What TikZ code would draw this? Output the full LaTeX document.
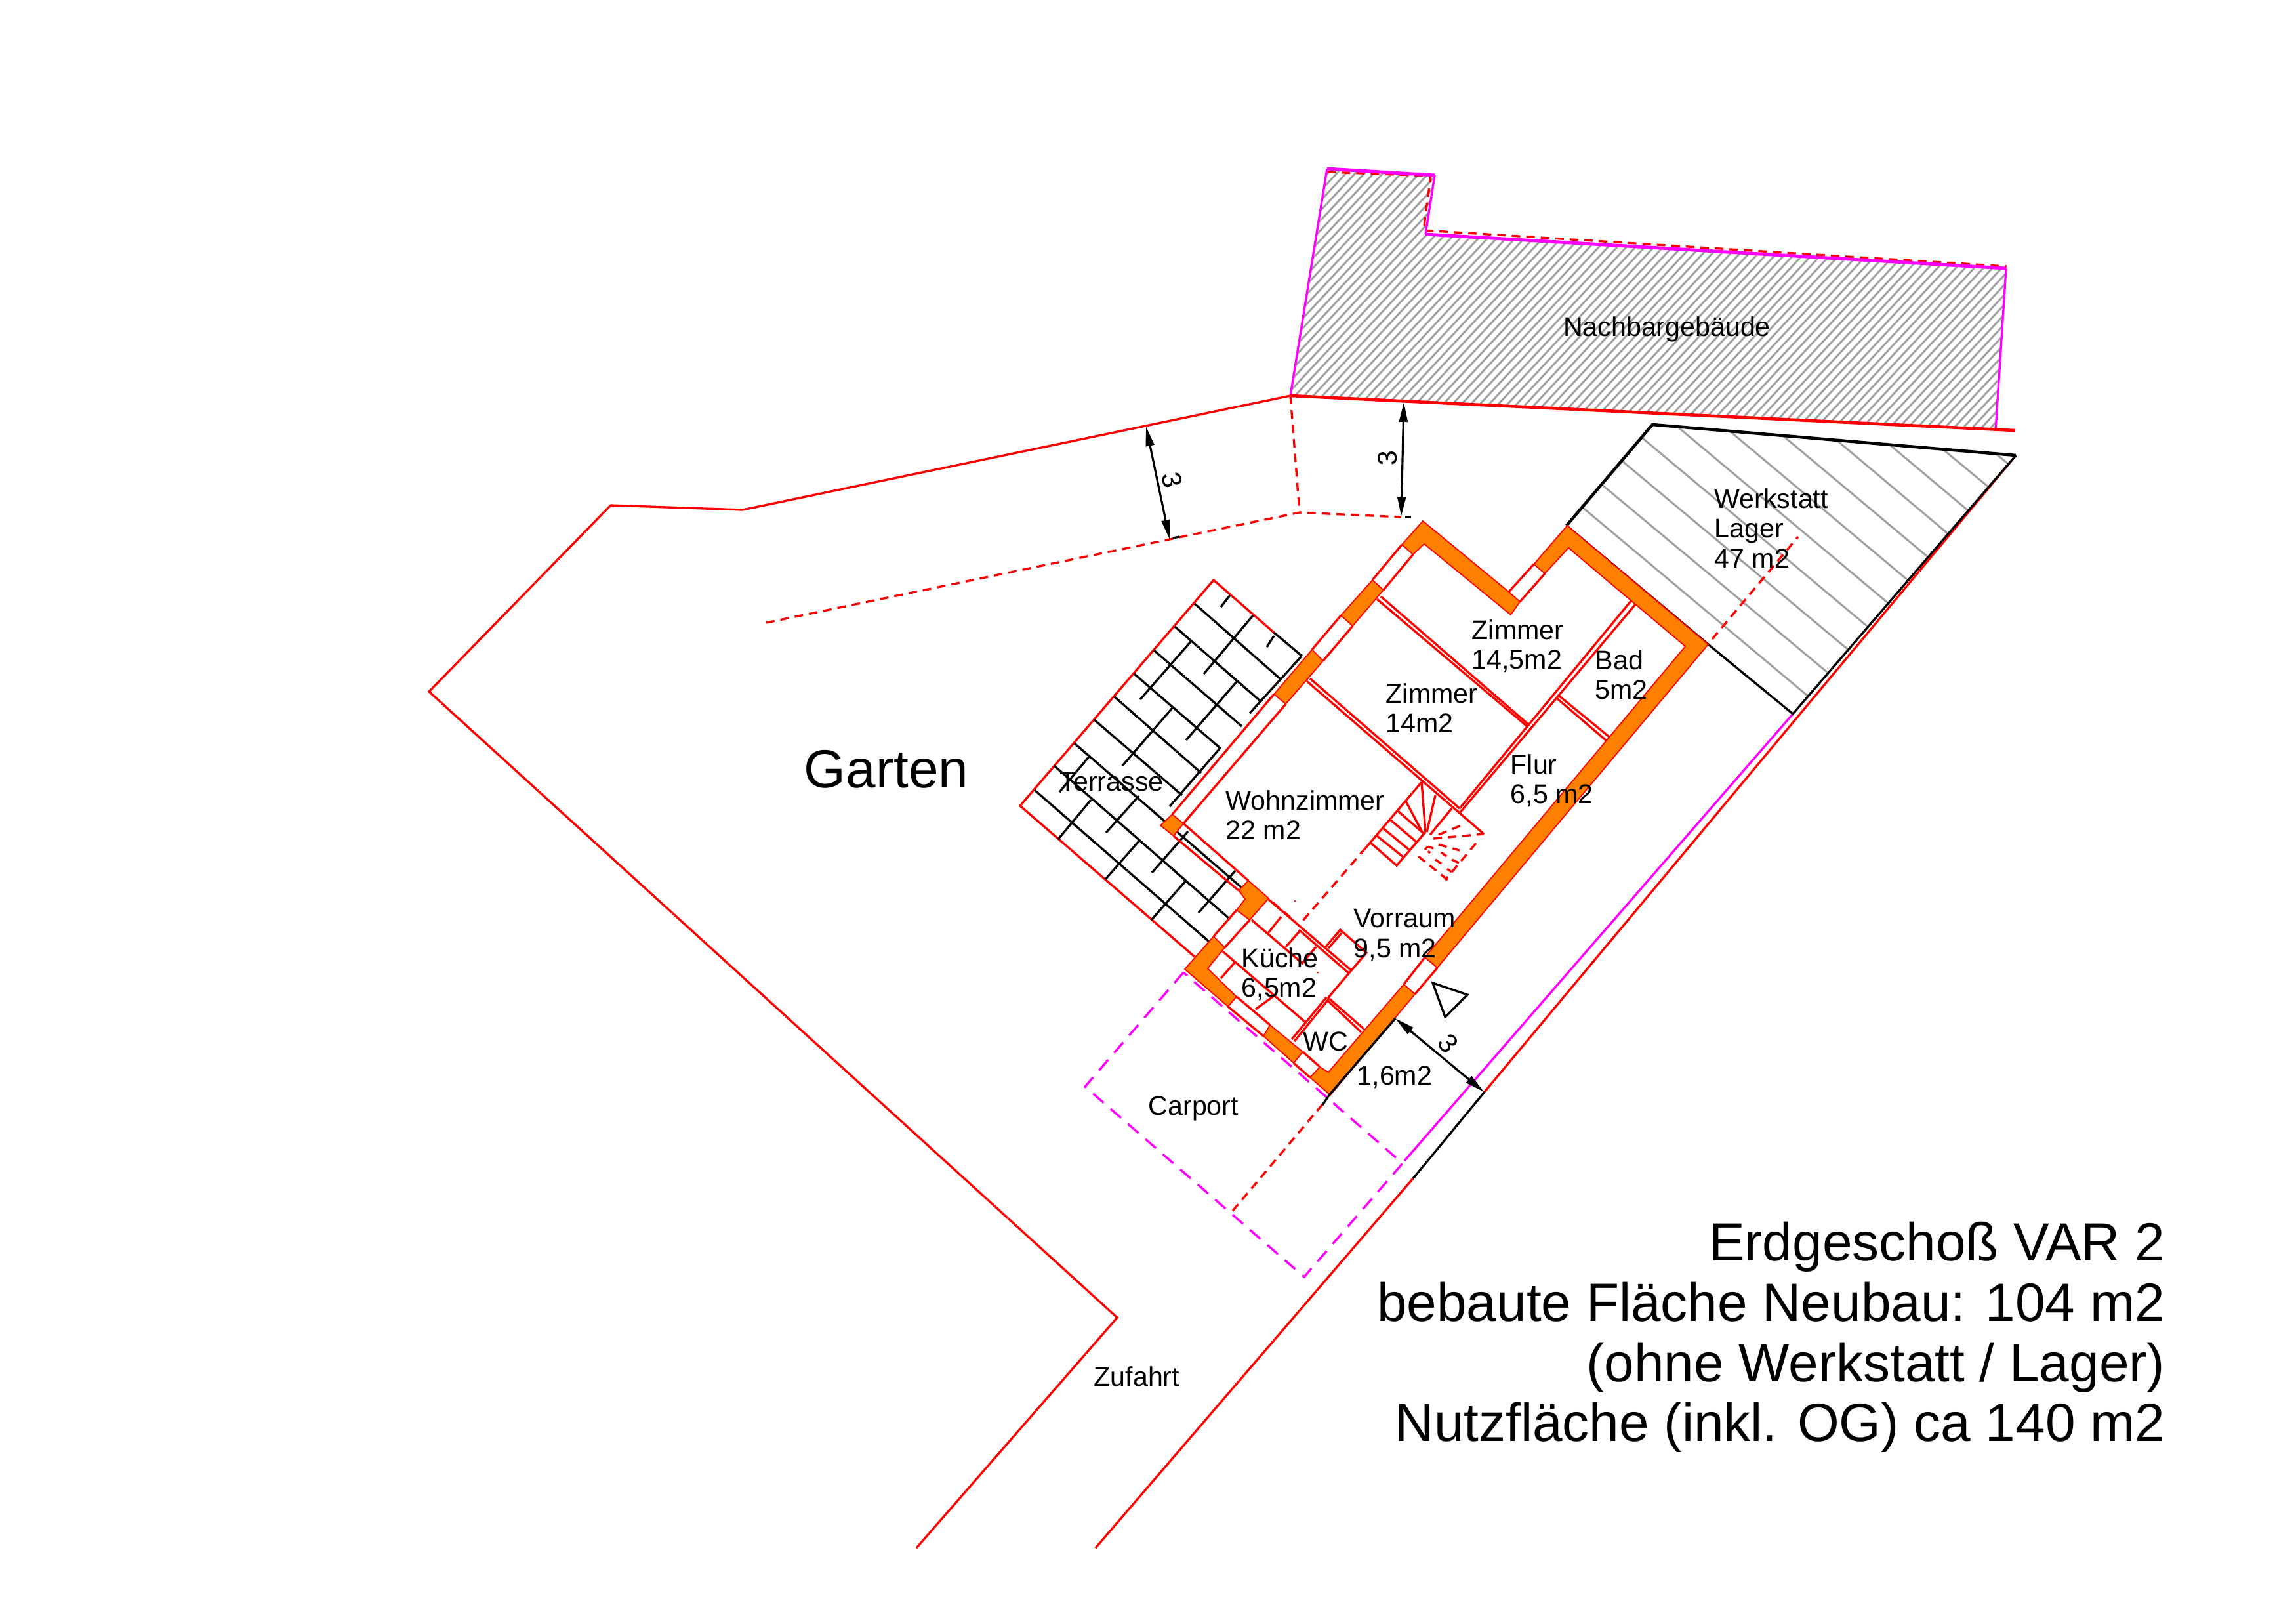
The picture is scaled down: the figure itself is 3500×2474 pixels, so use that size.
\documentclass[tikz,border=0pt]{standalone}
\usepackage{fontspec}
\setmainfont{Liberation Sans}
\usepackage{xcolor}
\usepackage{tikz}
\usetikzlibrary{arrows.meta}
\definecolor{planred}{HTML}{FF0000}
\definecolor{planmagenta}{HTML}{FF00FF}
\definecolor{planorange}{HTML}{FF8000}
\definecolor{plangrey}{HTML}{A0A0A0}
\tikzset{
	redline/.style={draw=planred, line width=0.95pt, line join=miter},
	reddash/.style={draw=planred, line width=0.95pt, dash pattern=on 3.7pt off 2.6pt},
	magline/.style={draw=planmagenta, line width=0.95pt},
	magdash/.style={draw=planmagenta, line width=0.95pt, dash pattern=on 6pt off 4pt},
	blackline/.style={draw=black, line width=0.95pt},
	greyline/.style={draw=plangrey, line width=0.85pt},
	wallpart/.style={draw=planred, fill=planorange, line width=0.5pt},
	dimline/.style={draw=black, line width=0.9pt, {Triangle[length=8.5pt,width=3.6pt]}-{Triangle[length=8.5pt,width=3.6pt]}},
	roomlabel/.style={anchor=west, inner sep=0pt, align=left, font=\fontsize{11.7}{12.9}\selectfont},
	dimlabel/.style={inner sep=0pt, font=\fontsize{11.7}{12.9}\selectfont},
	biglabel/.style={inner sep=0pt, font=\fontsize{23.3}{26.1}\selectfont}
}
\begin{document}
\begin{tikzpicture}[x=0.01cm, y=-0.01cm]
	\useasboundingbox (0,0) rectangle (3500,2474);

	% Neighbour building hatch
	\begin{scope}
		\clip (1967,603) -- (2023,257) -- (2187,267) -- (2173,357) -- (3058,409) -- (3042,656) -- cycle;
		\foreach \i in {0,...,106} {
			\draw[greyline] ({1585+14*\i},660) -- ({1967+14*\i},250);
		}
	\end{scope}
	\draw[reddash] (2023,262) -- (2181,268) -- (2170,351) -- (3059,406);
	\draw[magline, line width=1.4pt] (2023,257) -- (2187,267);
	\draw[magline, line width=1.4pt] (2173,357) -- (3058,409);
	\draw[magline] (1967,603) -- (2023,257);
	\draw[magline] (2187,267) -- (2173,357);
	\draw[magline] (3058,409) -- (3042,656);

	% Site boundary
	\draw[redline] (1397,2359) -- (1703,2008) -- (654,1054) -- (931,770) -- (1132,777) -- (1967,603);
	\draw[redline, line width=1.3pt] (1967,603) -- (3072,656);
	\draw[redline] (3073,694) -- (2263,1664);
	\draw[redline] (2154,1796) -- (1670,2359);
	\draw[blackline] (2263,1664) -- (2154,1796);
	\draw[magline] (2733,1088) -- (2141,1769);

	% Setback lines
	\draw[reddash] (1967,603) -- (1981,781);
	\draw[reddash] (1168,949) -- (1981,781) -- (2136,788);
	\draw[blackline] (1788,820) -- (1798,818);
	\draw[blackline] (2142,788) -- (2151,788);

	% Workshop
	\foreach \xa/\ya/\xb/\yb in {2412/773/2755/1060, 2441/738/2786/1025, 2472/702/2816/989, 2503/667/2847/955,
		2558/651/2878/919, 2638/658/2908/884, 2719/665/2939/849, 2800/671/2969/813,
		2882/679/3000/778, 2962/685/3031/742, 3042/691/3061/707} {
		\draw[greyline] (\xa,\ya) -- (\xb,\yb);
	}
	\draw[reddash] (2610,974) -- (2741,818);
	\draw[blackline] (2604,982) -- (2733,1088) -- (3073,694);
	\draw[blackline, line width=1.3pt] (2388,801) -- (2519,647) -- (3073,694);
	\draw[blackline] (2388,801) -- (2604,982);

	% Terrace
	\draw[redline] (1942,964) -- (1850,884) -- (1555,1228) -- (1821,1458);
	\foreach \xa/\ya/\xb/\yb in {1942/964/1985/1000, 1821/920/1952/1035, 1791/955/1923/1070, 1759/991/1893/1107,
		1729/1027/1861/1141, 1699/1062/1831/1178, 1668/1097/1802/1212, 1638/1133/1893/1353,
		1607/1167/1875/1401, 1577/1204/1843/1435,
		1875/907/1861/925, 1942/969/1931/986, 1910/938/1835/1027, 1984/1000/1905/1087,
		1815/978/1738/1066, 1885/1039/1808/1128, 1787/1079/1711/1167, 1859/1141/1783/1229,
		1661/1152/1615/1207, 1663/1219/1613/1279, 1736/1213/1686/1269, 1736/1282/1685/1340,
		1811/1267/1756/1330, 1807/1343/1755/1402, 1883/1327/1827/1391} {
		\draw[blackline] (\xa,\ya) -- (\xb,\yb);
	}

	% Carport
	\draw[magdash] (1804,1482) -- (1654,1656) -- (1988,1946) -- (2138,1773) -- cycle;
	\draw[reddash] (2016,1683) -- (1875,1850);

	% Outer walls
	\draw[wallpart] (2169,794) -- (2137,830) -- (2154,845) -- (2171,829) -- (2303,937) -- (2317,917) -- (2300,902) -- cycle;
	\draw[wallpart] (2389,801) -- (2338,860) -- (2355,874) -- (2391,835) -- (2569,985) -- (2172,1459) -- (2191,1475) -- (2604,982) -- cycle;
	\draw[wallpart] (2092,884) -- (2044,938) -- (2062,954) -- (2109,899) -- cycle;
	\draw[wallpart] (2000,990) -- (1942,1058) -- (1960,1073) -- (2017,1007) -- cycle;
	\draw[wallpart] (1787,1241) -- (1769,1258) -- (1789,1274) -- (1804,1255) -- cycle;
	\draw[wallpart] (1903,1342) -- (1934,1369) -- (1905,1402) -- (1885,1387) -- (1898,1370) -- (1888,1357) -- cycle;
	\draw[wallpart] (1850,1427) -- (1867,1444) -- (1841,1476) -- (1885,1519) -- (1872,1534) -- (1806,1477) -- cycle;
	\draw[wallpart] (1936,1562) -- (1926,1579) -- (1972,1620) -- (1986,1603) -- cycle;
	\draw[wallpart] (1997,1642) -- (2012,1626) -- (2025,1634) -- (2140,1500) -- (2157,1515) -- (2028,1669) -- cycle;

	% Openings and inner walls
	\foreach \xa/\ya/\xb/\yb in {2137/830/2092/884, 2154/845/2109/899, 2044/938/2000/990, 2062/954/2017/1007,
		1942/1058/1787/1241, 1960/1073/1804/1255, 1804/1255/1903/1342, 1789/1274/1888/1357,
		1885/1387/1850/1427, 1905/1402/1867/1444, 1872/1534/1926/1579, 1885/1519/1936/1562,
		1972/1620/1997/1642, 1986/1603/2012/1626, 2140/1500/2172/1459, 2157/1515/2191/1475,
		2338/860/2300/902, 2355/874/2317/917,
		2099/913/2328/1107, 2105/909/2331/1105, 1992/1038/2262/1271, 1997/1034/2225/1232,
		2486/916/2225/1232, 2493/921/2225/1239, 2373/1064/2449/1129, 2376/1060/2453/1123,
		1934/1371/1983/1413, 1983/1413/2059/1478, 1980/1417/2056/1483,
		2059/1480/2025/1520, 2022/1520/1969/1584, 2026/1522/1973/1587,
		2024/1520/2079/1568, 2024/1525/2075/1573} {
		\draw[redline] (\xa,\ya) -- (\xb,\yb);
	}
	\draw[redline] (2020,1444) -- (2043,1417) -- (2083,1452) -- (2059,1480);
	\draw[redline] (2025,1445) -- (2045,1422);
	\draw[reddash] (1940,1375) -- (1975,1405);
	\draw[reddash] (2082,1292) -- (1980,1410);
	\fill[planred] (1974,1373) circle (1.5);
	\fill[planred] (2009,1482) circle (1.5);

	% Kitchen counters
	\draw[redline] (1864,1450) -- (1989,1557);
	\draw[redline] (1908,1402) -- (1985,1468) -- (2006,1443);
	\foreach \xa/\ya/\xb/\yb in {1953/1397/1933/1422, 1982/1418/1960/1443, 1882/1467/1861/1491, 1943/1517/1914/1538} {
		\draw[redline] (\xa,\ya) -- (\xb,\yb);
	}

	% Stairs
	\draw[redline] (2167,1192) -- (2082,1292);
	\draw[redline] (2090,1285) -- (2129,1319) -- (2173,1268);
	\foreach \xa/\ya/\xb/\yb in {2098/1273/2139/1306, 2108/1262/2148/1295, 2119/1249/2159/1283, 2131/1236/2170/1270,
		2143/1221/2168/1268, 2167/1192/2173/1268, 2188/1212/2175/1268, 2213/1232/2180/1272} {
		\draw[redline] (\xa,\ya) -- (\xb,\yb);
	}
	\foreach \xa/\ya/\xb/\yb in {2185/1278/2262/1271, 2193/1272/2227/1258, 2193/1287/2225/1296, 2197/1299/2205/1305,
		2188/1310/2197/1316, 2162/1305/2207/1341, 2213/1329/2250/1285, 2206/1324/2213/1329,
		2213/1310/2224/1315, 2172/1295/2177/1290, 2177/1290/2185/1293, 2177/1297/2180/1300, 2203/1341/2207/1336} {
		\draw[reddash] (\xa,\ya) -- (\xb,\yb);
	}

	% Entrance mark
	\draw[blackline] (2184,1498) -- (2237,1516) -- (2203,1550) -- cycle;
	\draw[blackline] (2127,1552) -- (2026,1669) -- (2016,1684);

	% Dimensions
	\coordinate (dimA1) at (1747,650);
	\coordinate (dimA2) at (1783,822);
	\coordinate (dimB1) at (2140,613);
	\coordinate (dimB2) at (2136,787);
	\coordinate (dimC1) at (2127,1552);
	\coordinate (dimC2) at (2262,1664);
	\draw[dimline] (dimA1) -- (dimA2);
	\draw[dimline] (dimB1) -- (dimB2);
	\draw[dimline] (dimC1) -- (dimC2);
	\node[dimlabel, rotate=-78] (dimAtext) at (1787,732) {3};
	\node[dimlabel, rotate=91] (dimBtext) at (2115,698) {3};
	\node[dimlabel, rotate=-50] (dimCtext) at (2208,1590) {3};

	% Room labels
	\node[roomlabel, anchor=center] (nachbar) at (2541,502) {Nachbargebäude};
	\node[roomlabel] (werkstatt) at (2613,805) {Werkstatt\\Lager\\47 m2};
	\node[roomlabel] (zimmerA) at (2243,985) {Zimmer\\14,5m2};
	\node[roomlabel] (zimmerB) at (2112,1079) {Zimmer\\14m2};
	\node[roomlabel] (bad) at (2431,1028) {Bad\\5m2};
	\node[roomlabel] (flur) at (2302,1190) {Flur\\6,5 m2};
	\node[roomlabel] (wohnen) at (1868,1242) {Wohnzimmer\\22 m2};
	\node[roomlabel] (vorraum) at (2063,1425) {Vorraum\\9,5 m2};
	\node[roomlabel] (kueche) at (1892,1485) {Küche\\6,5m2};
	\node[roomlabel] (terrasse) at (1615,1192) {Terrasse};
	\node[roomlabel] (wc) at (1986,1587) {WC};
	\node[roomlabel] (wcarea) at (2068,1642) {1,6m2};
	\node[roomlabel] (carport) at (1750,1689) {Carport};
	\node[roomlabel] (zufahrt) at (1667,2098) {Zufahrt};

	\node[biglabel, anchor=west] (garten) at (1225,1172) {Garten};
	\node[biglabel, anchor=east, align=right] (title) at (3301,2038) {Erdgeschoß VAR 2\\bebaute Fläche Neubau: 104 m2\\(ohne Werkstatt / Lager)\\Nutzfläche (inkl. OG) ca 140 m2};
\end{tikzpicture}
\end{document}
